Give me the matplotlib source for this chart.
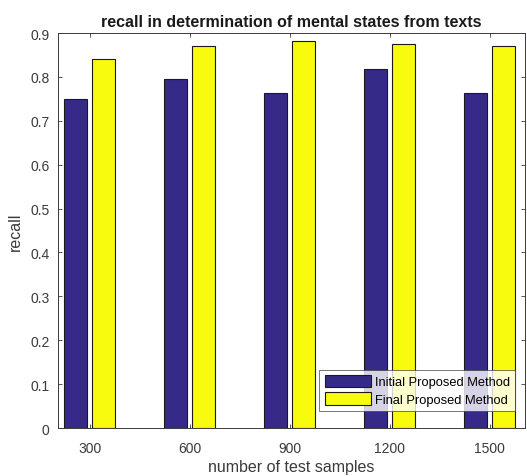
import matplotlib
matplotlib.use("Agg")
import matplotlib.pyplot as plt
import numpy as np

categories = ["300", "600", "900", "1200", "1500"]
initial = [0.750, 0.795, 0.763, 0.818, 0.763]
final = [0.841, 0.870, 0.881, 0.876, 0.870]
yticks = [0, 0.1, 0.2, 0.3, 0.4, 0.5, 0.6, 0.7, 0.8, 0.9]

plt.rcParams['font.family'] = ['Liberation Sans', 'DejaVu Sans']

fig = plt.figure(figsize=(5.27, 4.77), dpi=100)
ax = fig.add_axes([0.110, 0.1006, 0.886, 0.828])

x = np.arange(1, len(categories) + 1)
w = 0.23
off = 0.14
ax.bar(x - off, initial, w, color='#352A87', edgecolor='#1a1a1a', linewidth=0.8,
       label='Initial Proposed Method')
ax.bar(x + off, final, w, color='#F9FB0E', edgecolor='#1a1a1a', linewidth=0.8,
       label='Final Proposed Method')

ax.set_xlim(0.68, 5.35)
ax.set_ylim(0, 0.9)
ax.set_xticks(x)
ax.set_xticklabels(categories)
ax.set_yticks(yticks)
ax.set_yticklabels([("%g" % v) for v in yticks])
ax.tick_params(direction='in', top=True, right=True, labelsize=10,
               colors='#3a3a3a', length=3, width=0.6)
ax.tick_params(axis='x', pad=9)
ax.tick_params(axis='y', pad=6)
for s in ax.spines.values():
    s.set_color('#3a3a3a')
    s.set_linewidth(0.7)

ax.set_title('recall in determination of mental states from texts',
             fontsize=11.5, fontweight='bold', color='#1a1a1a', pad=5)
ax.set_xlabel('number of test samples', fontsize=11.5, color='#3a3a3a', labelpad=3)
ax.set_ylabel('recall', fontsize=11.5, color='#3a3a3a', labelpad=5)

leg = ax.legend(loc='lower right', fontsize=9.3, frameon=True, fancybox=False,
                edgecolor='#3a3a3a', borderpad=0.4, labelspacing=0.3,
                handlelength=3.6, handleheight=1.1, handletextpad=0.3,
                borderaxespad=0, bbox_to_anchor=(0.979, 0.043))
leg.get_frame().set_linewidth(0.6)

fig.savefig('out.png', dpi=100)
